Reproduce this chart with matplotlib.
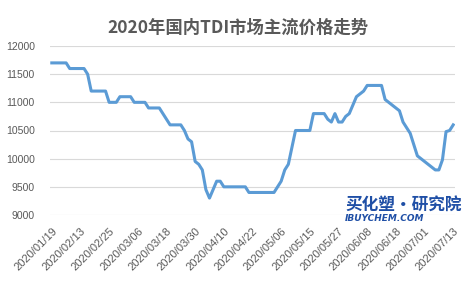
import matplotlib
matplotlib.use("Agg")
import matplotlib.pyplot as plt

# daily TDI price (yuan/ton), one value per trading day
prices = [
    11700, 11700, 11700, 11700, 11700, 11600, 11600, 11600, 11600, 11600,
    11500, 11200, 11200, 11200, 11200, 11200, 11000, 11000, 11000, 11100,
    11100, 11100, 11100, 11000, 11000, 11000, 11000, 10900, 10900, 10900,
    10900, 10800, 10700, 10600, 10600, 10600, 10600, 10500, 10350, 10300,
    9950, 9900, 9800, 9450, 9300, 9450, 9600, 9600, 9500, 9500,
    9500, 9500, 9500, 9500, 9500, 9400, 9400, 9400, 9400, 9400,
    9400, 9400, 9400, 9500, 9600, 9800, 9900, 10200, 10500, 10500,
    10500, 10500, 10500, 10800, 10800, 10800, 10800, 10700, 10650, 10800,
    10650, 10650, 10750, 10800, 10950, 11100, 11150, 11200, 11300, 11300,
    11300, 11300, 11300, 11050, 11000, 10950, 10900, 10850, 10650, 10550,
    10450, 10250, 10050, 10000, 9950, 9900, 9850, 9800, 9800, 9980,
    10480, 10500, 10600,
]
# every 8th trading day gets a label
date_labels = [
    "2020/01/19", "2020/02/13", "2020/02/25", "2020/03/06", "2020/03/18",
    "2020/03/30", "2020/04/10", "2020/04/22", "2020/05/06", "2020/05/15",
    "2020/05/27", "2020/06/08", "2020/06/18", "2020/07/01", "2020/07/13",
]
label_step = 8
y_ticks = [9000, 9500, 10000, 10500, 11000, 11500, 12000]

title = "2020年国内TDI市场主流价格走势"

fig = plt.figure(figsize=(4.75, 2.82), dpi=100)
ax = fig.add_axes([50 / 475, 1 - 215 / 282, 405 / 475, 169 / 282])

ax.plot(range(len(prices)), prices, color="#5B9BD5", lw=2.2,
        solid_joinstyle="round", zorder=3)

ax.set_xlim(-0.5, len(prices) - 0.5)
ax.set_ylim(9000, 12000)
ax.set_yticks(y_ticks)
ax.set_yticklabels([str(v) for v in y_ticks])
ax.set_xticks(range(0, len(prices), label_step))
ax.set_xticklabels(date_labels, rotation=45, ha="right", rotation_mode="anchor")

for lab in ax.get_yticklabels():
    lab.set_family(["Liberation Sans", "DejaVu Sans"])
    lab.set_fontsize(7.5)
    lab.set_color("#595959")
for lab in ax.get_xticklabels():
    lab.set_family(["Liberation Sans", "DejaVu Sans"])
    lab.set_fontsize(8)
    lab.set_color("#595959")

ax.tick_params(axis="both", length=0)
ax.tick_params(axis="y", pad=11)
ax.tick_params(axis="x", pad=8)

ax.grid(axis="y", color="#D9D9D9", lw=0.8)
ax.set_axisbelow(True)
for s in ax.spines.values():
    s.set_visible(False)

fig.text(0.5, 1 - 27.5 / 282, title, ha="center", va="center",
         fontsize=12.5, fontweight="bold", color="#595959",
         family=["Noto Sans CJK SC", "DejaVu Sans"])

# watermark
fig.text(345 / 475, 1 - 215 / 282, "买化塑·研究院", ha="left", va="bottom",
         fontsize=12, fontweight="bold", color="#1F4FA6",
         family=["Noto Sans CJK SC", "DejaVu Sans"])
fig.text(345 / 475, 1 - 223 / 282, "IBUYCHEM.COM", ha="left", va="bottom",
         fontsize=6.5, fontweight="bold", style="italic", color="#1F4FA6",
         family=["DejaVu Sans"])

fig.savefig("out.png", dpi=100)
